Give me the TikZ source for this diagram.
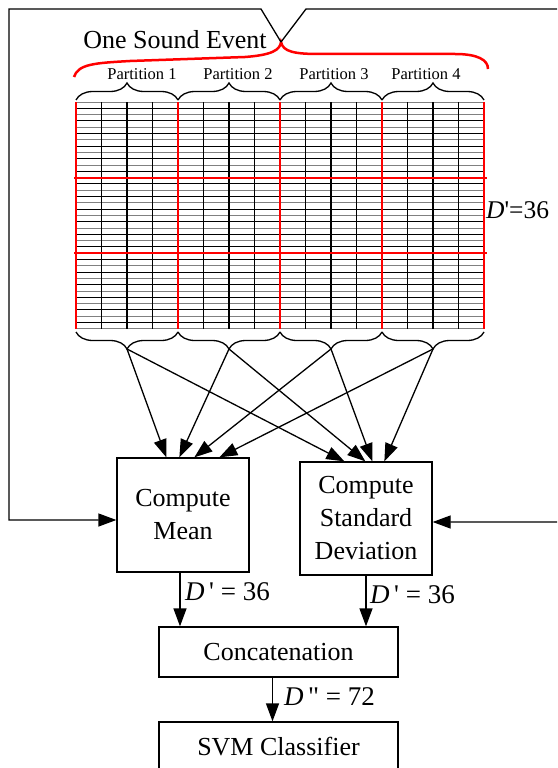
\documentclass[tikz,border=0pt]{standalone}
\usepackage{fontspec}
\setmainfont{Liberation Serif}
\usetikzlibrary{arrows.meta,decorations.pathreplacing}

\begin{document}
\begin{tikzpicture}[
        x=1pt, y=-1pt,
        box/.style={
            draw,
            line width=1.3pt,
            align=center,
            font=\fontsize{26}{33}\selectfont,
            inner sep=0pt
        },
        arr/.style={line width=1.3pt, -{Triangle[length=18pt,width=13pt]}},
        brc/.style={line width=1.3pt, decorate, decoration={brace, amplitude=17pt}},
        lbl/.style={font=\fontsize{16.5}{18}\selectfont, inner sep=0pt},
        dim/.style={font=\fontsize{27}{30}\selectfont, inner sep=0pt, anchor=west}
    ]
    \clip (0,0) rectangle (557,768);

    % feature grid: 36 rows, 4 partitions of 4 frames
    \foreach \i in {0,...,36} {
        \ifodd\i
            \draw[line width=1pt] (76,102+\i*6.3) -- (484,102+\i*6.3);
        \else
            \draw[line width=1pt, gray] (76,102+\i*6.3) -- (484,102+\i*6.3);
        \fi
    }
    \foreach \c in {1,2,3,5,6,7,9,10,11,13,14,15}
        \draw[line width=1.1pt] (76+\c*25.5,102) -- (76+\c*25.5,329);
    \foreach \yy in {177.6,253.2}
        \draw[red, line width=1.8pt] (74,\yy) -- (487,\yy);
    \foreach \p in {0,...,4}
        \draw[red, line width=2.8pt] (76+\p*102,102) -- (76+\p*102,329);

    % partition braces
    \foreach \k in {1,...,4} {
        \draw[brc] (76+\k*102-102,100) -- (76+\k*102,100);
        \draw[brc] (76+\k*102,332) -- (76+\k*102-102,332);
        \coordinate (tip\k) at (76+\k*102-51,349);
    }
    \foreach \k/\x in {1/142,2/238,3/334,4/426}
        \node[lbl] (part\k) at (\x,74) {Partition \k};

    % whole event
    \draw[red, line width=2.5pt] (74,77) .. controls (78,64) and (95,63) .. (130,61) -- (245,57)
        .. controls (272,55) and (280,50) .. (281,42)
        .. controls (283,52) and (295,54) .. (320,54) -- (455,54)
        .. controls (478,54) and (488,60) .. (488,69);
    \coordinate (evt) at (281,42);
    \node[font=\fontsize{26}{30}\selectfont, inner sep=0pt] (event) at (175,40) {One Sound Event};
    \node[dim, font=\fontsize{25.5}{28}\selectfont] (dtop) at (486,210) {{\itshape D}\textquotesingle{}=36};

    \node[box, minimum width=132pt, minimum height=114pt] (mean) at (183,515) {Compute\\Mean};
    \node[box, minimum width=132pt, minimum height=113pt] (std) at (366,518.5) {Compute\\Standard\\Deviation};
    \node[box, minimum width=239pt, minimum height=50pt] (concat) at (278.5,652) {Concatenation};
    \node[box, minimum width=239pt, minimum height=50pt] (svm) at (278.5,747) {SVM Classifier};

    \draw[arr] (tip1) -- ([xshift=50pt]mean.north west);
    \draw[arr] (tip2) -- ([xshift=63pt]mean.north west);
    \draw[arr] (tip3) -- ([xshift=78pt]mean.north west);
    \draw[arr] (tip4) -- ([xshift=103pt]mean.north west);
    \draw[arr] (tip1) -- ([xshift=45pt]std.north west);
    \draw[arr] (tip2) -- ([xshift=66pt]std.north west);
    \draw[arr] (tip3) -- ([xshift=73pt]std.north west);
    \draw[arr] (tip4) -- ([xshift=85pt]std.north west);

    \draw[arr] (evt) -- (261,9) -- (9,9) -- (9,520) -- ([yshift=-5pt]mean.west);
    \draw[arr] (evt) -- (306,9) -- (570,9) -- (570,522) -- ([yshift=-3.5pt]std.east);

    \draw[arr] ([xshift=-3pt]mean.south) -- ([xshift=-3pt]mean.south |- concat.north);
    \draw[arr] (std.south) -- (std.south |- concat.north);
    \draw[arr] ([xshift=-6pt]concat.south) -- ([xshift=-6pt]concat.south |- svm.north);
    \node[dim] (dmean) at (185,592) {{\itshape D}\,\textquotesingle{} = 36};
    \node[dim] (dstd) at (370,595) {{\itshape D}\,\textquotesingle{} = 36};
    \node[dim] (dcat) at (284,697) {{\itshape D}\,\textquotedbl{} = 72};

\end{tikzpicture}
\end{document}
